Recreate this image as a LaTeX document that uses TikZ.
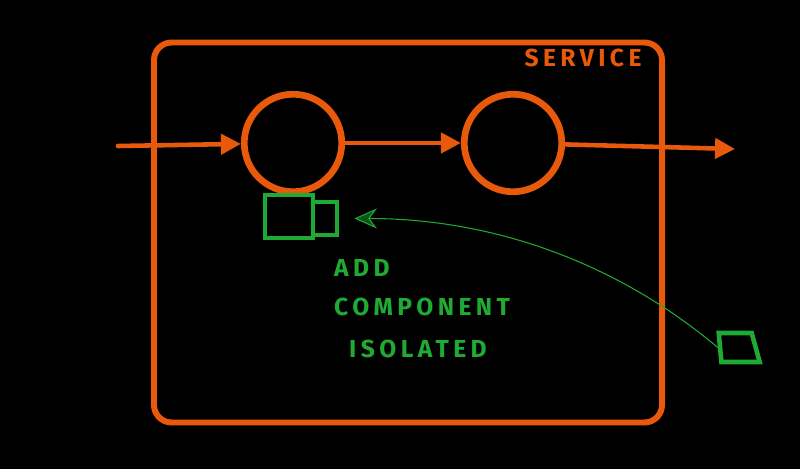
\documentclass[tikz,border=0pt]{standalone}
\usepackage{fontspec}
\usepackage{xcolor}
\usepackage{tikz}
\usetikzlibrary{arrows.meta,shapes.geometric}
\newfontfamily\handfont[LetterSpace=18]{Fira Sans}
\definecolor{flame}{HTML}{E8590C}
\definecolor{leaf}{HTML}{1FAA34}

\begin{document}
\begin{tikzpicture}[
      orangeline/.style={draw=flame, line width=3.4pt, line cap=round},
      flow/.style={orangeline, line width=2.6pt, -{Triangle[length=4mm,width=4mm]}},
      stage/.style={orangeline, line width=3.8pt, circle, minimum size=1.95cm, inner sep=0pt},
      part/.style={draw=leaf, line width=2.6pt, inner sep=0pt},
      label/.style={text=leaf, font=\handfont\bfseries\fontsize{14}{16}\selectfont, anchor=west},
    ]
      \fill[black] (0,0) rectangle (16,9.38);
      \useasboundingbox (0,0) rectangle (16,9.38);

      \node[orangeline, rounded corners=10pt, minimum width=10.16cm,
            minimum height=7.6cm] (service) at (8.16, 4.73) {};
      \node[text=flame, font=\handfont\bfseries\fontsize{14}{16}\selectfont]
        (servicename) at (11.66, 8.22) {SERVICE};

      \node[stage] (first) at (5.86, 6.52) {};
      \node[stage] (second) at (10.26, 6.52) {};
      \coordinate (in) at (2.36, 6.46);
      \coordinate (out) at (14.7, 6.40);

      \draw[flow] (in) -- (first);
      \draw[flow] (first) -- (second);
      \draw[flow] (second) -- (out);

      \node[part, minimum width=0.96cm, minimum height=0.86cm] (slot) at (5.78, 5.05) {};
      \node[part, minimum width=0.48cm, minimum height=0.66cm] (addon) at (6.5, 5.01) {};
      \node[part, trapezium, inner sep=1pt, trapezium stretches=true,
            trapezium left angle=95, trapezium right angle=75,
            minimum width=0.82cm, minimum height=0.58cm] (device) at (14.73, 2.43) {};

      \draw[leaf, line width=0.6pt, -{Stealth[length=4.5mm,width=4mm,open,fill=leaf!50!black]}]
        (device.west) to[out=140, in=0, looseness=0.9] ([xshift=3mm]addon.east);

      \node[label] (add) at (6.56, 4.02) {ADD};
      \node[label] (component) at (6.56, 3.24) {COMPONENT};
      \node[label] (isolated) at (6.86, 2.40) {ISOLATED};
    \end{tikzpicture}
\end{document}
